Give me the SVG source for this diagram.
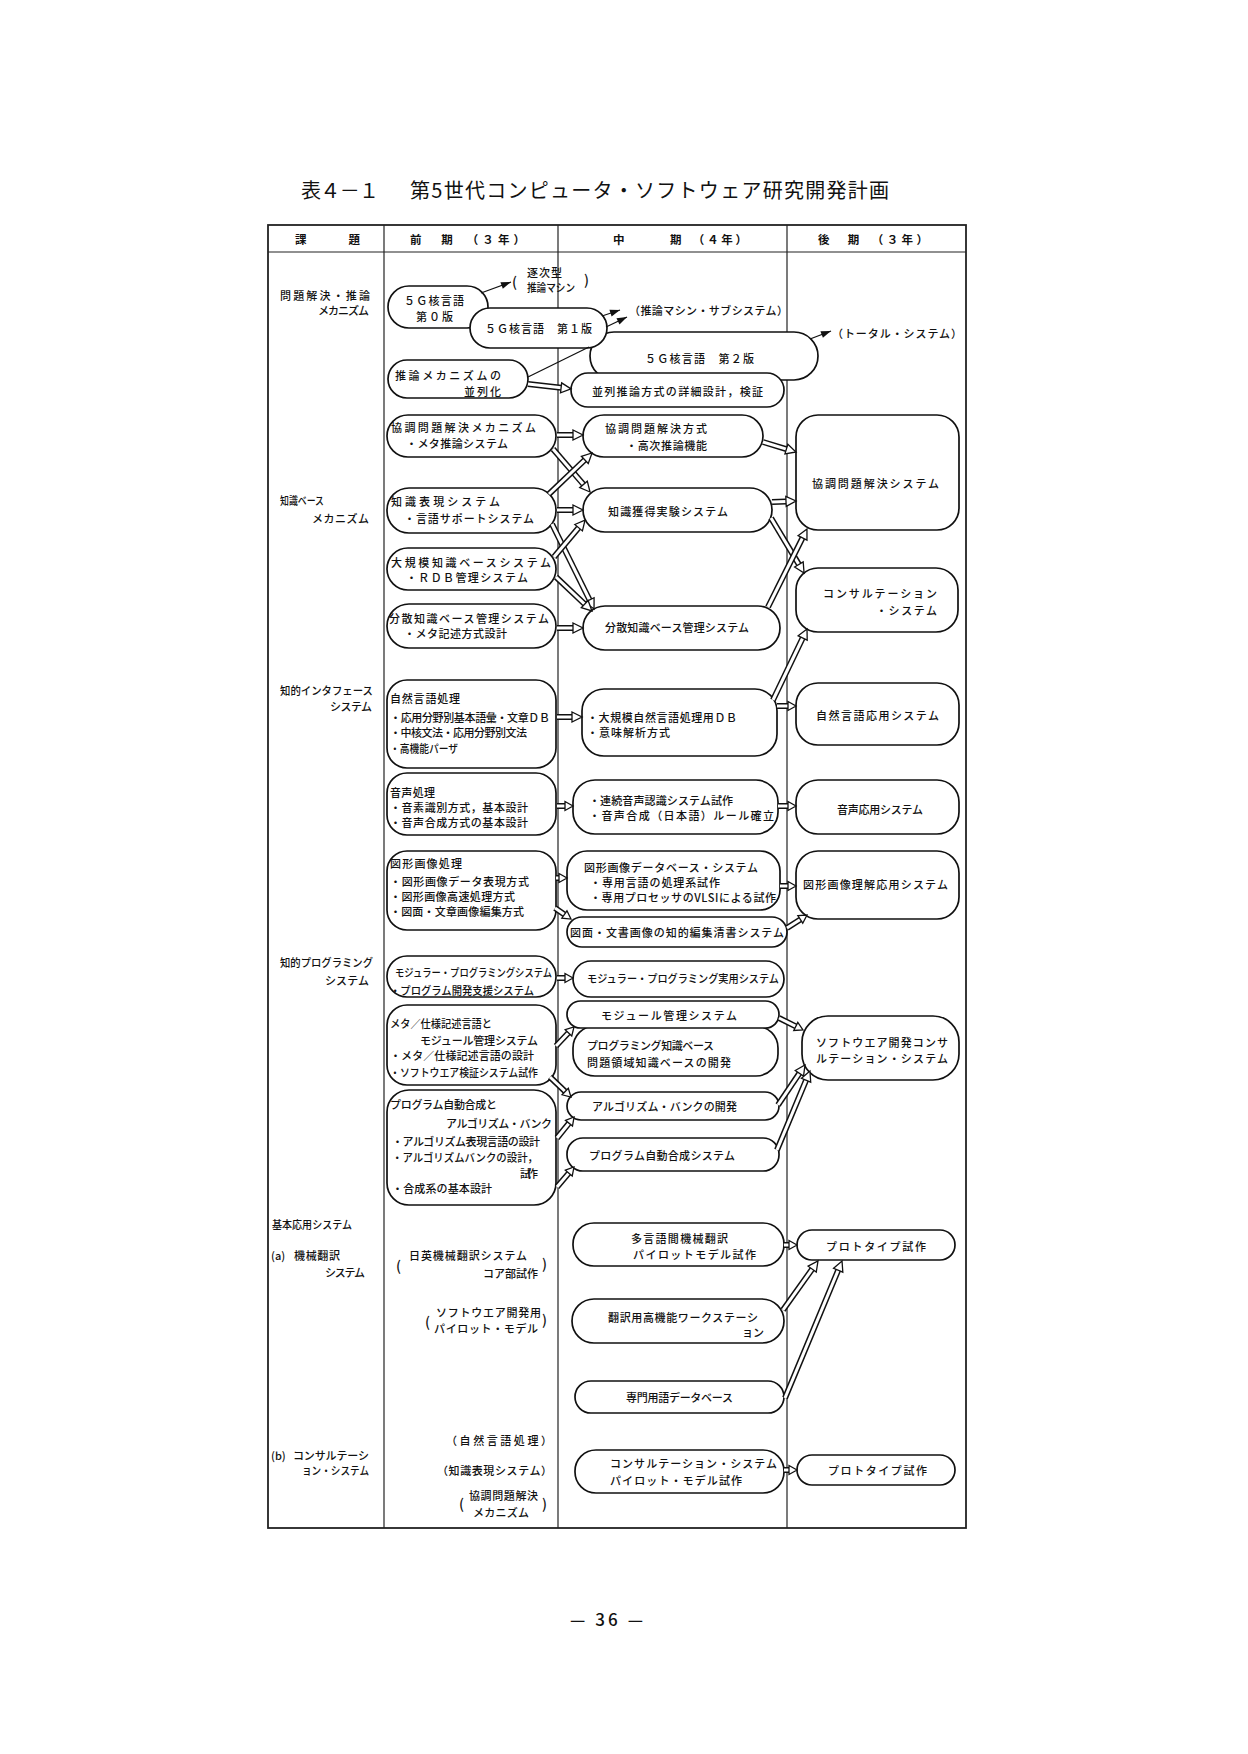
<svg xmlns="http://www.w3.org/2000/svg" width="1248" height="1754" viewBox="0 0 1248 1754">
<style>
text{font-family:"Noto Sans CJK JP","Noto Sans CJK SC",sans-serif;font-size:11px;font-weight:500;fill:#111;dominant-baseline:central}
.ttl{font-size:20px;font-weight:400}
.hd{font-weight:bold;font-size:11.5px}
.pn{font-size:17px}
.pr{font-size:14px}
.nd rect{fill:#fff;stroke:#111;stroke-width:1.7}
.tbl{fill:none;stroke:#222;stroke-width:1.2}
.tbo{fill:none;stroke:#222;stroke-width:1.8}
.o{fill:none;stroke:#111;stroke-width:6}
.i{fill:none;stroke:#fff;stroke-width:3}
.s{fill:none;stroke:#111;stroke-width:1.3}
</style>
<defs>
<marker id="hh" markerUnits="userSpaceOnUse" markerWidth="14" markerHeight="14" viewBox="-1 -7 14 14" refX="0" refY="0" orient="auto" overflow="visible"><path d="M0,-5L10,0L0,5Z" fill="#fff" stroke="#111" stroke-width="1.3"/></marker>
<marker id="hs" markerUnits="userSpaceOnUse" markerWidth="12" markerHeight="12" viewBox="-1 -6 12 12" refX="0" refY="0" orient="auto" overflow="visible"><path d="M0,-4.5L8,0L0,4.5Z" fill="#fff" stroke="#111" stroke-width="1.3"/></marker>
<marker id="fh" markerUnits="userSpaceOnUse" markerWidth="12" markerHeight="10" viewBox="0 -5 12 10" refX="10" refY="0" orient="auto" overflow="visible"><path d="M0,-3.5L10,0L0,3.5Z" fill="#111"/></marker>
</defs>
<rect width="1248" height="1754" fill="#fff"/>

<g id="title">
<text class="ttl" x="301" y="189" textLength="78">表４－１</text>
<text class="ttl" x="410" y="189" textLength="479">第5世代コンピュータ・ソフトウェア研究開発計画</text>
</g>

<g id="table">
<rect class="tbo" x="268" y="225" width="698" height="1303"/>
<line class="tbl" x1="268" y1="252" x2="966" y2="252"/>
<line class="tbl" x1="384" y1="225" x2="384" y2="1528"/>
<line class="tbl" x1="558" y1="225" x2="558" y2="1528"/>
<line class="tbl" x1="787" y1="225" x2="787" y2="1528"/>
<text class="hd" x="295" y="239" textLength="65">課　　題</text>
<text class="hd" x="410" y="239" textLength="115">前　期　（３年）</text>
<text class="hd" x="613" y="239" textLength="134">中　　　期　（４年）</text>
<text class="hd" x="818" y="239" textLength="110">後　期　（３年）</text>
</g>

<g id="labels">
<text x="280" y="295" textLength="90">問題解決・推論</text>
<text x="318" y="310" textLength="51">メカニズム</text>
<text x="280" y="500" textLength="44" lengthAdjust="spacingAndGlyphs">知識ベース</text>
<text x="312" y="518" textLength="57">メカニズム</text>
<text x="280" y="690" textLength="93" lengthAdjust="spacingAndGlyphs">知的インタフェース</text>
<text x="330" y="706" textLength="42">システム</text>
<text x="280" y="962" textLength="93" lengthAdjust="spacingAndGlyphs">知的プログラミング</text>
<text x="325" y="980" textLength="44">システム</text>
<text x="272" y="1224" textLength="80" lengthAdjust="spacingAndGlyphs">基本応用システム</text>
<text x="271" y="1255">(a)</text>
<text x="294" y="1255" textLength="46">機械翻訳</text>
<text x="325" y="1272" textLength="40">システム</text>
<text x="271" y="1455">(b)</text>
<text x="293" y="1455" textLength="76">コンサルテーシ</text>
<text x="302" y="1470" textLength="67" lengthAdjust="spacingAndGlyphs">ョン・システム</text>
</g>

<g id="notes">
<text class="pr" x="512" y="281">(</text>
<text x="527" y="272" textLength="35">逐次型</text>
<text x="527" y="287" textLength="48" lengthAdjust="spacingAndGlyphs">推論マシン</text>
<text class="pr" x="584" y="279">)</text>
<text x="629" y="310" textLength="159">（推論マシン・サブシステム）</text>
<text x="832" y="333" textLength="130">（トータル・システム）</text>
<text class="pr" x="396" y="1265">(</text>
<text x="409" y="1255" textLength="118">日英機械翻訳システム</text>
<text x="483" y="1273" textLength="55">コア部試作</text>
<text class="pr" x="542" y="1263">)</text>
<text class="pr" x="425" y="1321">(</text>
<text x="436" y="1312" textLength="105">ソフトウエア開発用</text>
<text x="434" y="1328" textLength="104">パイロット・モデル</text>
<text class="pr" x="542" y="1319">)</text>
<text x="446" y="1440" textLength="106">（自然言語処理）</text>
<text x="437" y="1470" textLength="115">（知識表現システム）</text>
<text class="pr" x="459" y="1503">(</text>
<text x="469" y="1495" textLength="69">協調問題解決</text>
<text x="473" y="1512" textLength="56">メカニズム</text>
<text class="pr" x="542" y="1503">)</text>
</g>

<g id="n-5g0" class="nd"><rect x="388" y="286" width="100" height="42" rx="21"/>
<text x="404" y="300" textLength="60">５Ｇ核言語</text><text x="416" y="316" textLength="37">第０版</text></g>
<g id="n-5g2" class="nd"><rect x="590" y="332" width="228" height="48" rx="24"/>
<text x="645" y="358" textLength="109">５Ｇ核言語　第２版</text></g>
<g id="n-5g1" class="nd"><rect x="470" y="308" width="137" height="40" rx="20"/>
<text x="485" y="328" textLength="107">５Ｇ核言語　第１版</text></g>
<g id="n-heiretsu" class="nd"><rect x="388" y="360" width="140" height="38" rx="19"/>
<text x="395" y="375" textLength="106">推論メカニズムの</text><text x="464" y="391" textLength="37">並列化</text></g>
<g id="n-heiretsu-suiron" class="nd"><rect x="571" y="373" width="213" height="34" rx="17"/>
<text x="592" y="391" textLength="171">並列推論方式の詳細設計，検証</text></g>

<g id="n-kyocho-m" class="nd"><rect x="387" y="415" width="169" height="42" rx="21"/>
<text x="391" y="427" textLength="145">協調問題解決メカニズム</text><text x="406" y="443" textLength="102">・メタ推論システム</text></g>
<g id="n-chishiki-hyogen" class="nd"><rect x="387" y="488" width="169" height="45" rx="22"/>
<text x="391" y="501" textLength="109">知識表現システム</text><text x="404" y="518" textLength="130">・言語サポートシステム</text></g>
<g id="n-daikibo-kb" class="nd"><rect x="387" y="548" width="169" height="42" rx="21"/>
<text x="391" y="562" textLength="160">大規模知識ベースシステム</text><text x="406" y="577" textLength="122">・ＲＤＢ管理システム</text></g>
<g id="n-bunsan-f" class="nd"><rect x="387" y="604" width="169" height="44" rx="22"/>
<text x="389" y="618" textLength="160">分散知識ベース管理システム</text><text x="404" y="633" textLength="103">・メタ記述方式設計</text></g>
<g id="n-kyocho-hoshiki" class="nd"><rect x="583" y="415" width="180" height="42" rx="21"/>
<text x="605" y="428" textLength="102">協調問題解決方式</text><text x="626" y="445" textLength="81">・高次推論機能</text></g>
<g id="n-kakutoku" class="nd"><rect x="583" y="488" width="189" height="44" rx="22"/>
<text x="608" y="511" textLength="120">知識獲得実験システム</text></g>
<g id="n-bunsan-m" class="nd"><rect x="583" y="606" width="197" height="44" rx="22"/>
<text x="605" y="627" textLength="144">分散知識ベース管理システム</text></g>
<g id="n-kyocho-sys" class="nd"><rect x="796" y="415" width="163" height="115" rx="22"/>
<text x="812" y="483" textLength="127">協調問題解決システム</text></g>
<g id="n-consul" class="nd"><rect x="796" y="568" width="162" height="64" rx="22"/>
<text x="823" y="593" textLength="114">コンサルテーション</text><text x="876" y="610" textLength="61">・システム</text></g>

<g id="n-shizen-f" class="nd"><rect x="387" y="680" width="169" height="88" rx="20"/>
<text x="390" y="698" textLength="70">自然言語処理</text>
<text x="390" y="717" textLength="160">・応用分野別基本語彙・文章ＤＢ</text>
<text x="390" y="732" textLength="137">・中核文法・応用分野別文法</text>
<text x="390" y="748" textLength="68" lengthAdjust="spacingAndGlyphs">・高機能パーザ</text></g>
<g id="n-shizen-m" class="nd"><rect x="582" y="689" width="195" height="67" rx="22"/>
<text x="587" y="717" textLength="150">・大規模自然言語処理用ＤＢ</text><text x="587" y="732" textLength="83">・意味解析方式</text></g>
<g id="n-shizen-r" class="nd"><rect x="796" y="683" width="163" height="62" rx="22"/>
<text x="816" y="715" textLength="123">自然言語応用システム</text></g>
<g id="n-onsei-f" class="nd"><rect x="387" y="773" width="169" height="62" rx="20"/>
<text x="390" y="792" textLength="45">音声処理</text>
<text x="390" y="807" textLength="138">・音素識別方式，基本設計</text>
<text x="390" y="822" textLength="138">・音声合成方式の基本設計</text></g>
<g id="n-onsei-m" class="nd"><rect x="573" y="780" width="205" height="54" rx="22"/>
<text x="589" y="800" textLength="144">・連続音声認識システム試作</text><text x="589" y="815" textLength="185">・音声合成（日本語）ルール確立</text></g>
<g id="n-onsei-r" class="nd"><rect x="796" y="780" width="163" height="54" rx="22"/>
<text x="837" y="809" textLength="86">音声応用システム</text></g>
<g id="n-zukei-f" class="nd"><rect x="387" y="851" width="169" height="79" rx="20"/>
<text x="390" y="863" textLength="72">図形画像処理</text>
<text x="390" y="881" textLength="139">・図形画像データ表現方式</text>
<text x="390" y="896" textLength="125">・図形画像高速処理方式</text>
<text x="390" y="911" textLength="134">・図面・文章画像編集方式</text></g>
<g id="n-zukei-db" class="nd"><rect x="567" y="851" width="213" height="59" rx="20"/>
<text x="584" y="867" textLength="174">図形画像データベース・システム</text>
<text x="590" y="882" textLength="130">・専用言語の処理系試作</text>
<text x="590" y="897" textLength="186">・専用プロセッサのVLSIによる試作</text></g>
<g id="n-zumen" class="nd"><rect x="567" y="917" width="220" height="30" rx="15"/>
<text x="570" y="932" textLength="214">図面・文書画像の知的編集清書システム</text></g>
<g id="n-zukei-r" class="nd"><rect x="796" y="851" width="163" height="68" rx="22"/>
<text x="803" y="884" textLength="145">図形画像理解応用システム</text></g>

<g id="n-modular-f" class="nd"><rect x="387" y="956" width="169" height="41" rx="20"/>
<text x="395" y="972" textLength="157" lengthAdjust="spacingAndGlyphs">モジュラー・プログラミングシステム</text>
<text x="390" y="990" textLength="144" lengthAdjust="spacingAndGlyphs">・プログラム開発支援システム</text></g>
<g id="n-modular-m" class="nd"><rect x="573" y="961" width="211" height="36" rx="18"/>
<text x="587" y="978" textLength="192" lengthAdjust="spacingAndGlyphs">モジュラー・プログラミング実用システム</text></g>
<g id="n-meta-f" class="nd"><rect x="387" y="1005" width="169" height="80" rx="20"/>
<text x="390" y="1023" textLength="102" lengthAdjust="spacingAndGlyphs">メタ／仕様記述言語と</text>
<text x="420" y="1040" textLength="118">モジュール管理システム</text>
<text x="390" y="1055" textLength="144">・メタ／仕様記述言語の設計</text>
<text x="390" y="1072" textLength="148" lengthAdjust="spacingAndGlyphs">・ソフトウエア検証システム試作</text></g>
<g id="n-pkb" class="nd"><rect x="573" y="1026" width="205" height="50" rx="22"/>
<text x="587" y="1045" textLength="127">プログラミング知識ベース</text>
<text x="587" y="1062" textLength="144">問題領域知識ベースの開発</text></g>
<g id="n-module-m" class="nd"><rect x="567" y="1001" width="212" height="27" rx="13.5"/>
<text x="601" y="1015" textLength="136">モジュール管理システム</text></g>
<g id="n-soft-consul" class="nd"><rect x="802" y="1016" width="157" height="64" rx="26"/>
<text x="816" y="1042" textLength="132">ソフトウエア開発コンサ</text>
<text x="816" y="1058" textLength="132">ルテーション・システム</text></g>
<g id="n-jidou-f" class="nd"><rect x="387" y="1090" width="169" height="115" rx="22"/>
<text x="390" y="1104" textLength="107">プログラム自動合成と</text>
<text x="446" y="1123" textLength="106">アルゴリズム・バンク</text>
<text x="392" y="1141" textLength="148">・アルゴリズム表現言語の設計</text>
<text x="392" y="1157" textLength="146" lengthAdjust="spacingAndGlyphs">・アルゴリズムバンクの設計，</text>
<text x="520" y="1173" textLength="18">試作</text>
<text x="392" y="1188" textLength="100">・合成系の基本設計</text></g>
<g id="n-algo" class="nd"><rect x="567" y="1092" width="212" height="28" rx="14"/>
<text x="592" y="1106" textLength="145">アルゴリズム・バンクの開発</text></g>
<g id="n-jidou-m" class="nd"><rect x="567" y="1138" width="212" height="33" rx="16"/>
<text x="589" y="1155" textLength="146">プログラム自動合成システム</text></g>

<g id="n-tagengo" class="nd"><rect x="573" y="1223" width="211" height="43" rx="21"/>
<text x="631" y="1238" textLength="97">多言語間機械翻訳</text>
<text x="633" y="1254" textLength="123">パイロットモデル試作</text></g>
<g id="n-proto-a" class="nd"><rect x="797" y="1230" width="158" height="30" rx="15"/>
<text x="826" y="1246" textLength="100">プロトタイプ試作</text></g>
<g id="n-ws" class="nd"><rect x="572" y="1299" width="212" height="44" rx="22"/>
<text x="608" y="1317" textLength="150">翻訳用高機能ワークステーシ</text>
<text x="742" y="1332">ョン</text></g>
<g id="n-senmon" class="nd"><rect x="575" y="1381" width="209" height="32" rx="16"/>
<text x="626" y="1397" textLength="107">専門用語データベース</text></g>
<g id="n-consul-pilot" class="nd"><rect x="575" y="1450" width="209" height="43" rx="21"/>
<text x="610" y="1463" textLength="167">コンサルテーション・システム</text>
<text x="610" y="1480" textLength="132">パイロット・モデル試作</text></g>
<g id="n-proto-b" class="nd"><rect x="797" y="1455" width="158" height="30" rx="15"/>
<text x="828" y="1470" textLength="99">プロトタイプ試作</text></g>

<g id="connectors">
<path class="s" d="M481,293L511,282" marker-end="url(#fh)"/>
<path class="s" d="M602,316L620,310" marker-end="url(#fh)"/>
<path class="s" d="M606,327L627,317" marker-end="url(#fh)"/>
<path class="s" d="M810,339L831,331" marker-end="url(#fh)"/>
<path class="s" d="M528,377L589,347"/>

<path class="o" d="M528,384L561.1,387.8"/><path class="i" d="M528,384L561.1,387.8" marker-end="url(#hh)"/>
<path class="o" d="M557,435L573,435"/><path class="i" d="M557,435L573,435" marker-end="url(#hh)"/>
<path class="o" d="M553,449L583.5,484.4"/><path class="i" d="M553,449L583.5,484.4" marker-end="url(#hh)"/>
<path class="o" d="M549,494L584.8,459.9"/><path class="i" d="M549,494L584.8,459.9" marker-end="url(#hh)"/>
<path class="o" d="M557,510L573,510"/><path class="i" d="M557,510L573,510" marker-end="url(#hh)"/>
<path class="o" d="M552,524L589.6,600"/><path class="i" d="M552,524L589.6,600" marker-end="url(#hh)"/>
<path class="o" d="M554,557L578.6,527.7"/><path class="i" d="M554,557L578.6,527.7" marker-end="url(#hh)"/>
<path class="o" d="M556,577L584.7,604.1"/><path class="i" d="M556,577L584.7,604.1" marker-end="url(#hh)"/>
<path class="o" d="M557,628L573,628"/><path class="i" d="M557,628L573,628" marker-end="url(#hh)"/>

<path class="o" d="M763,442L786.4,449.1"/><path class="i" d="M763,442L786.4,449.1" marker-end="url(#hh)"/>
<path class="o" d="M772,502L786,501.4"/><path class="i" d="M772,502L786,501.4" marker-end="url(#hh)"/>
<path class="o" d="M771,518L798.9,564.4"/><path class="i" d="M771,518L798.9,564.4" marker-end="url(#hh)"/>
<path class="o" d="M768,607L802.5,537.9"/><path class="i" d="M768,607L802.5,537.9" marker-end="url(#hh)"/>
<path class="o" d="M773,700L802.7,638"/><path class="i" d="M773,700L802.7,638" marker-end="url(#hh)"/>

<path class="o" d="M557,717L572,717"/><path class="i" d="M557,717L572,717" marker-end="url(#hh)"/>
<path class="o" d="M777,706L788,706"/><path class="i" d="M777,706L788,706" marker-end="url(#hs)"/>
<path class="o" d="M557,806L565,806"/><path class="i" d="M557,806L565,806" marker-end="url(#hs)"/>
<path class="o" d="M778,806L788,806"/><path class="i" d="M778,806L788,806" marker-end="url(#hs)"/>
<path class="o" d="M556,878L559,878"/><path class="i" d="M556,878L559,878" marker-end="url(#hs)"/>
<path class="o" d="M555,908L564.4,914.5"/><path class="i" d="M555,908L564.4,914.5" marker-end="url(#hs)"/>
<path class="o" d="M780,886L788,886"/><path class="i" d="M780,886L788,886" marker-end="url(#hs)"/>
<path class="o" d="M787,928L800.3,919.4"/><path class="i" d="M787,928L800.3,919.4" marker-end="url(#hs)"/>

<path class="o" d="M557,978L565,978"/><path class="i" d="M557,978L565,978" marker-end="url(#hs)"/>
<path class="o" d="M556,1046L568.5,1032.8"/><path class="i" d="M556,1046L568.5,1032.8" marker-end="url(#hs)"/>
<path class="o" d="M550,1077L565.2,1091.5"/><path class="i" d="M550,1077L565.2,1091.5" marker-end="url(#hs)"/>
<path class="o" d="M557,1138L569,1123.2"/><path class="i" d="M557,1138L569,1123.2" marker-end="url(#hs)"/>
<path class="o" d="M557,1187L568.8,1173.1"/><path class="i" d="M557,1187L568.8,1173.1" marker-end="url(#hs)"/>
<path class="o" d="M779,1018L795.8,1026.4"/><path class="i" d="M779,1018L795.8,1026.4" marker-end="url(#hs)"/>
<path class="o" d="M778,1105L799.4,1073.3"/><path class="i" d="M778,1105L799.4,1073.3" marker-end="url(#hh)"/>
<path class="o" d="M777,1150L806.1,1080.2"/><path class="i" d="M777,1150L806.1,1080.2" marker-end="url(#hh)"/>

<path class="o" d="M784,1245L789,1245"/><path class="i" d="M784,1245L789,1245" marker-end="url(#hs)"/>
<path class="o" d="M783,1310L812.2,1269.1"/><path class="i" d="M783,1310L812.2,1269.1" marker-end="url(#hh)"/>
<path class="o" d="M785,1398L838.2,1270.2"/><path class="i" d="M785,1398L838.2,1270.2" marker-end="url(#hh)"/>
<path class="o" d="M784,1470L789,1470"/><path class="i" d="M784,1470L789,1470" marker-end="url(#hs)"/>
</g>

<text class="pn" x="570" y="1618" textLength="73">— 36 —</text>
</svg>
